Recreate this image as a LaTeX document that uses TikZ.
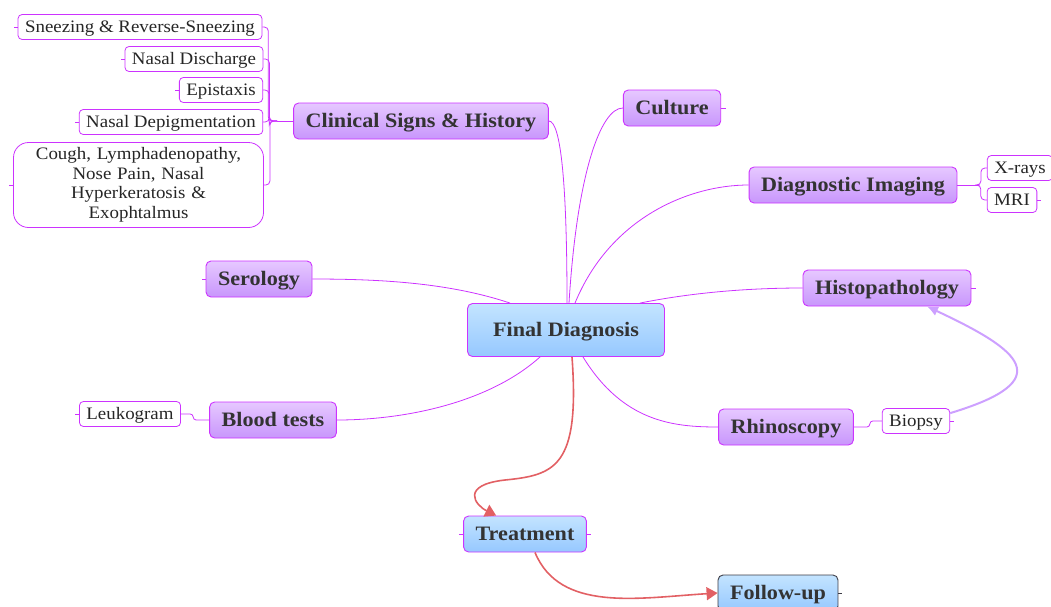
\documentclass[tikz,border=0pt]{standalone}
\usepackage{fontspec}
\setmainfont[FakeStretch=1.08]{Liberation Serif}
\usetikzlibrary{
  arrows.meta,
  calc,
  positioning,
}
\definecolor{mmmagenta}{RGB}{204,51,255}
\definecolor{mmlilac}{RGB}{200,150,252}
\definecolor{mmlilactop}{RGB}{230,200,255}
\definecolor{mmblue}{RGB}{150,200,255}
\definecolor{mmbluetop}{RGB}{195,228,255}
\definecolor{mmred}{RGB}{226,96,100}
\definecolor{mmlink}{RGB}{205,160,255}
\definecolor{mmtext}{RGB}{51,51,51}
\definecolor{mmdark}{RGB}{60,60,70}
\tikzstyle{topic} = [
  rectangle,
  draw=mmmagenta,
  line width=0.9pt,
  rounded corners=5pt,
  top color=mmlilactop,
  bottom color=mmlilac,
  text=mmtext,
  font=\fontsize{20.5}{24}\selectfont\bfseries,
  text height=13.6pt,
  text depth=0pt,
  inner xsep=12pt,
  minimum height=36pt,
]
\tikzstyle{stage} = [
  topic,
  top color=mmbluetop,
  bottom color=mmblue,
]
\tikzstyle{leaf} = [
  rectangle,
  draw=mmmagenta,
  line width=0.8pt,
  rounded corners=4pt,
  fill=white,
  text=black!85,
  font=\fontsize{17.5}{19.5}\selectfont,
  text height=11.6pt,
  text depth=0pt,
  inner xsep=7pt,
  minimum height=25pt,
]
\tikzstyle{branch} = [
  draw=mmmagenta,
  line width=0.8pt,
]
\tikzstyle{flow} = [
  -{Triangle[length=11pt,width=13pt]},
  draw=mmred,
  line width=1.6pt,
]

\begin{document}
\begin{tikzpicture}[x=1pt,y=-1pt]
  \useasboundingbox (0,0) rectangle (1051,606);

  % centre and follow-on stages
  \node[stage,minimum width=197pt,minimum height=53pt] (fd) at (566,330) {Final Diagnosis};
  \node[stage] (tr) at (525,534) {Treatment};
  \node[stage,draw=mmdark] (fu) at (778,593) {Follow-up};

  % main topics
  \node[topic] (csh) at (421,121) {Clinical Signs \& History};
  \node[topic] (cul) at (672,108) {Culture};
  \node[topic] (di) at (853,185) {Diagnostic Imaging};
  \node[topic] (ser) at (259,279) {Serology};
  \node[topic] (hp) at (887,288) {Histopathology};
  \node[topic] (bt) at (273,420) {Blood tests};
  \node[topic] (rh) at (786,427) {Rhinoscopy};

  % sub-topics
  \node[leaf] (sn) at (140,27) {Sneezing \& Reverse-Sneezing};
  \node[leaf] (nd) at (194,59) {Nasal Discharge};
  \node[leaf] (ep) at (221,90) {Epistaxis};
  \node[leaf] (dep) at (171,122) {Nasal Depigmentation};
  \node[leaf,rounded corners=15pt,text width=236pt,align=center,text height=,text depth=,minimum height=85pt] (cou) at (138.5,185) {Cough, Lymphadenopathy,\\Nose Pain, Nasal\\Hyperkeratosis \&\\Exophtalmus};
  \node[leaf] (xr) at (1020,168) {X-rays};
  \node[leaf] (mri) at (1012,200) {MRI};
  \node[leaf] (leu) at (130,414) {Leukogram};
  \node[leaf] (bio) at (916,421) {Biopsy};

  % branches from the centre
  \draw[branch] ($(fd.north)+(1,0)$) .. controls +(0,-120) and +(12,0) .. (csh.east);
  \draw[branch] ($(fd.north)+(3,0)$) .. controls +(8,-130) and +(-22,0) .. (cul.west);
  \draw[branch] ($(fd.north)+(9,0)$) .. controls +(35,-85) and +(-60,0) .. (di.west);
  \draw[branch] ($(fd.north)+(74,0)$) .. controls +(60,-12) and +(-45,0) .. (hp.west);
  \draw[branch] ($(fd.north)+(-56,0)$) .. controls +(-60,-20) and +(70,0) .. (ser.east);
  \draw[branch] ($(fd.south)+(-26,0)$) .. controls +(-50,45) and +(70,0) .. (bt.east);
  \draw[branch] ($(fd.south)+(17,0)$) .. controls +(40,65) and +(-45,0) .. (rh.west);

  % clinical signs bracket
  \coordinate (cshb) at ($(csh.west)+(-16,0)$);
  \draw[branch] (csh.west) -- (cshb);
  \draw[branch,rounded corners=4pt] (sn.east) -- ++(6,0) |- (cshb);
  \draw[branch,rounded corners=4pt] (nd.east) -- ++(6,0) |- (cshb);
  \draw[branch,rounded corners=4pt] (ep.east) -- ++(6,0) |- (cshb);
  \draw[branch,rounded corners=4pt] (dep.east) -- ++(6,0) |- (cshb);
  \draw[branch,rounded corners=4pt] (cou.east) -- ++(6,0) |- (cshb);

  % imaging bracket
  \coordinate (dib) at ($(di.east)+(22,0)$);
  \draw[branch] (di.east) -- (dib);
  \draw[branch,rounded corners=4pt] (xr.west) -- ++(-6,0) |- (dib);
  \draw[branch,rounded corners=4pt] (mri.west) -- ++(-6,0) |- (dib);

  % short sub-branches
  \draw[branch,rounded corners=3pt] (bt.west) -- ++(-16,0) |- (leu.east);
  \draw[branch,rounded corners=3pt] (rh.east) -- ++(16,0) |- (bio.west);

  % collapse stubs
  \draw[branch] (sn.west) -- ++(-4,0);
  \draw[branch] (nd.west) -- ++(-4,0);
  \draw[branch] (ep.west) -- ++(-4,0);
  \draw[branch] (dep.west) -- ++(-4,0);
  \draw[branch] (cou.west) -- ++(-4,0);
  \draw[branch] (ser.west) -- ++(-4,0);
  \draw[branch] (leu.west) -- ++(-4,0);
  \draw[branch] (cul.east) -- ++(5,0);
  \draw[branch] (hp.east) -- ++(5,0);
  \draw[branch] (bio.east) -- ++(4,0);
  \draw[branch] (mri.east) -- ++(4,0);
  \draw[branch] (tr.west) -- ++(-4,0);
  \draw[branch] (tr.east) -- ++(4,0);
  \draw[mmdark,line width=0.8pt] (fu.east) -- ++(4,0);

  % biopsy link
  \draw[-{Latex[length=11pt,width=10pt]},draw=mmlink,line width=2pt]
    ($(bio.north east)+(0,5)$) .. controls (1060,380) and (1020,350) .. ($(hp.south)+(40,0)$);

  % workflow
  \draw[flow] ($(fd.south)+(6,0)$) .. controls +(8,110) and +(50,-5) .. (505,480)
    .. controls (460,485) and (475,505) .. ($(tr.north west)+(33,0)$);
  \draw[flow] ($(tr.south)+(10,0)$) .. controls +(25,60) and +(-80,5) .. (fu.west);
\end{tikzpicture}
\end{document}
